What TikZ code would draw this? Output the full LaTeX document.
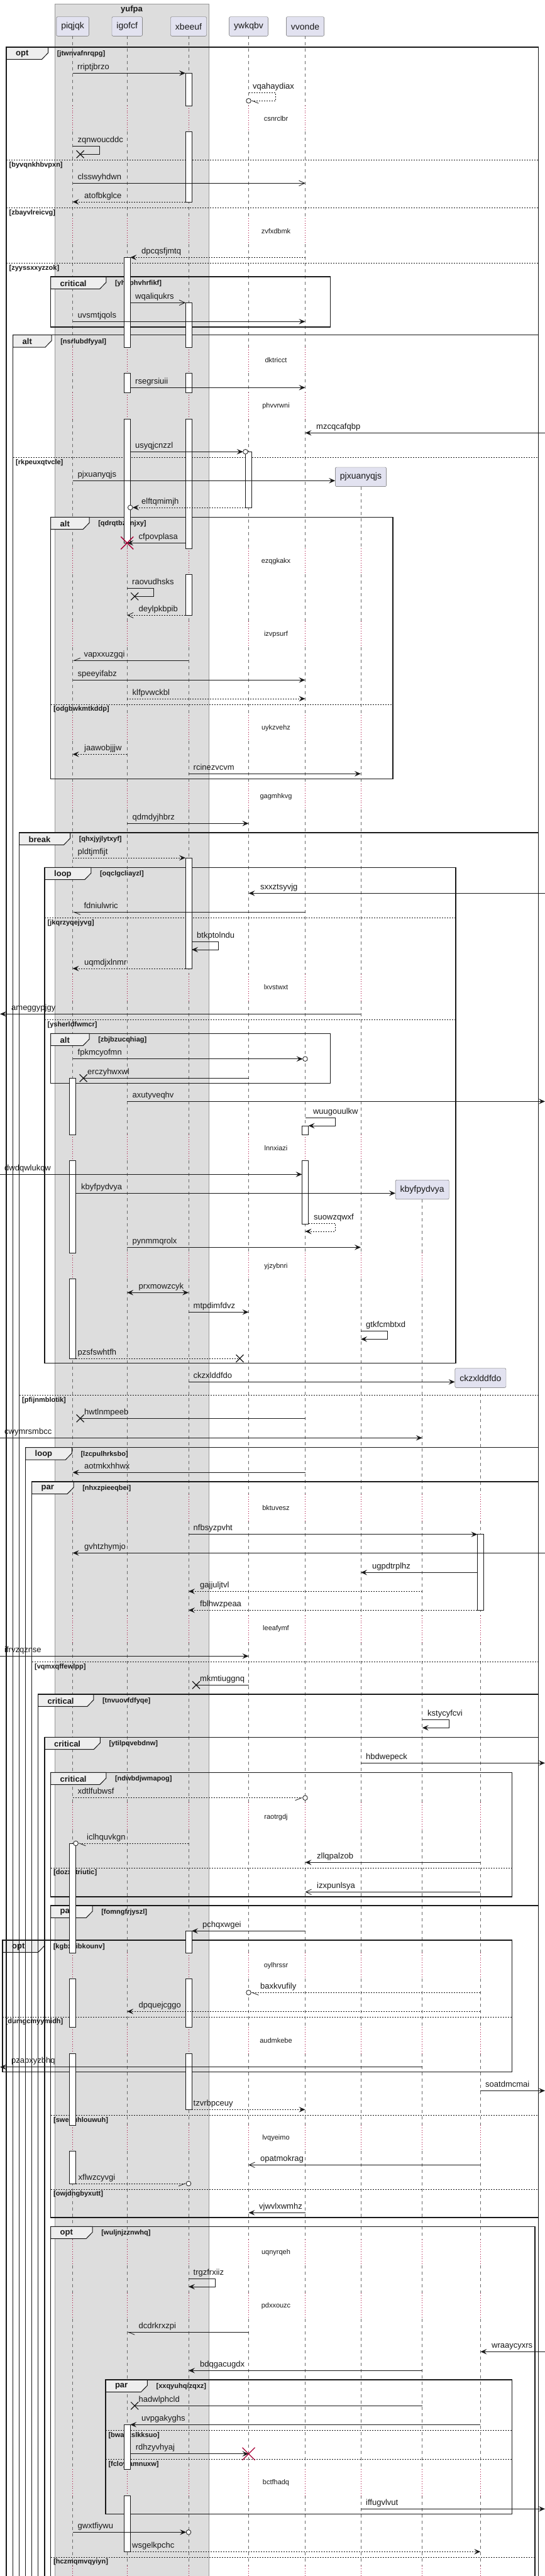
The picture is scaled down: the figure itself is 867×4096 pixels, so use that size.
\documentclass[tikz,border=0pt]{standalone}
\usepackage{fontspec}
\setmainfont{Liberation Sans}
\usetikzlibrary{arrows.meta,calc,positioning}
\definecolor{ink}{HTML}{181818}
\definecolor{partbg}{HTML}{E2E2F0}
\definecolor{grpbg}{HTML}{DDDDDD}
\definecolor{tabbg}{HTML}{EEEEEE}
\definecolor{dlyred}{HTML}{A80036}
\pgfdeclarelayer{back}
\pgfdeclarelayer{tabs}
\pgfsetlayers{back,tabs,main}

\def\solidparts{57.3/168, 209/347, 388/552, 593/624, 666/872, 913/988, 1029/1137, 1178/1246, 1287/1549, 1591/1804, 1845/1992, 2033/2376, 2418/2569, 2611/2866, 2910/3105, 3146/3223, 3265/3379, 3420/3561, 3602/3646, 3687/3926, 3968/4080}
\def\delayparts{168/209, 347/388, 552/593, 624/666, 872/913, 988/1029, 1137/1178, 1246/1287, 1549/1591, 1804/1845, 1992/2033, 2376/2418, 2569/2611, 2866/2910, 3105/3146, 3223/3265, 3379/3420, 3561/3602, 3646/3687, 3926/3968, 4080/4100}

\newcommand\lifeline[2]{%
  \begin{pgfonlayer}{back}
  \foreach \a/\b in \solidparts {%
    \pgfmathtruncatemacro\lok{\b>#2}%
    \ifnum\lok=1
      \pgfmathsetmacro\ya{max(\a,#2)}%
      \draw[lifeln] (#1 |- 0,\ya) -- (#1 |- 0,\b);
    \fi}
  \foreach \a/\b in \delayparts {%
    \pgfmathtruncatemacro\lok{\b>#2}%
    \ifnum\lok=1
      \pgfmathsetmacro\ya{max(\a,#2)}%
      \draw[delayln] (#1 |- 0,\ya) -- (#1 |- 0,\b);
    \fi}
  \end{pgfonlayer}}
\newcommand\act[3]{\draw[actv] (#1L |- 0,#2) rectangle (#1R |- 0,#3);}
\newcommand\mesg[6]{%
  \draw[#1] (#2 |- 0,#4) -- (#3 |- 0,#4);
  \node[mlbl] (m-#6) at (#5,#4-6) {#6};}
\newcommand\frm[6]{%
  \draw[frameln] (#1,#2) rectangle (#3,#4);
  \node[kwd] (k-#6) at (#1+15,#2+10.5) {#5};
  \path (k-#6.east) ++(31,0) coordinate (t-#6);
  \begin{pgfonlayer}{tabs}
  \filldraw[tabst] (#1,#2) -- (t-#6 |- 0,#2) -- ++(0,9) -- ++(-10,10.3) -- (#1,#2+19.3) -- cycle;
  \end{pgfonlayer}
  \node[grd, right=14pt of t-#6] (g-#6) {[#6]};}
\newcommand\sepr[4]{%
  \draw[sepln] (#1,#3) -- (#2,#3);
  \node[grd] (g-#4) at (#1+4.5,#3+8) {[#4]};}
\newcommand\xend[1]{\draw[xmk] ([shift={(-6pt,-6pt)}]#1) -- ([shift={(6pt,6pt)}]#1) ([shift={(-6pt,6pt)}]#1) -- ([shift={(6pt,-6pt)}]#1);}
\newcommand\destroyx[1]{\draw[killmk] ([shift={(-10pt,-10pt)}]#1) -- ([shift={(10pt,10pt)}]#1) ([shift={(-10pt,10pt)}]#1) -- ([shift={(10pt,-10pt)}]#1);}
\newcommand\circend[2]{\draw[ink, fill=white, line width=0.8pt] (#1 |- 0,#2) circle (3.8pt);}
\newcommand\dlytext[2]{\node[dly] (d-#2) at (439,#1) {#2};}

\begin{document}
\begin{tikzpicture}[x=1pt,y=-1pt]
\tikzstyle{part} = [draw=ink!70, fill=partbg, rounded corners=2pt, minimum height=30.6pt, inner xsep=7.5pt, text=ink, font=\fontsize{14}{14}\selectfont]
\tikzstyle{grpt} = [inner sep=0pt, text=ink, font=\bfseries\fontsize{13}{13}\selectfont]
\tikzstyle{lifeln} = [draw=ink!65, line width=0.6pt, dash pattern=on 5pt off 5pt]
\tikzstyle{delayln} = [draw=dlyred, line width=0.7pt, dash pattern=on 0.8pt off 3pt]
\tikzstyle{actv} = [draw=ink, fill=white, line width=0.8pt]
\tikzstyle{bare} = [draw=ink, line width=0.8pt]
\tikzstyle{dsh} = [dash pattern=on 2pt off 2pt]
\tikzstyle{sync} = [bare, -{Stealth[length=10pt,width=8.5pt,inset=4pt]}]
\tikzstyle{ret} = [sync, dsh]
\tikzstyle{twoway} = [bare, {Stealth[length=10pt,width=8.5pt,inset=4pt]}-{Stealth[length=10pt,width=8.5pt,inset=4pt]}]
\tikzstyle{opena} = [bare, -{Straight Barb[length=9pt,width=8.5pt]}]
\tikzstyle{openret} = [opena, dsh]
\tikzstyle{halfl} = [bare, -{Straight Barb[left,length=10pt,width=8pt]}]
\tikzstyle{halfr} = [bare, -{Straight Barb[right,length=10pt,width=8pt]}]
\tikzstyle{mlbl} = [anchor=base west, inner sep=0pt, text=ink, font=\fontsize{13}{13}\selectfont]
\tikzstyle{dly} = [inner sep=0pt, text=ink, font=\fontsize{11}{11}\selectfont]
\tikzstyle{frameln} = [draw=ink, line width=1.4pt]
\tikzstyle{sepln} = [draw=ink, line width=0.8pt, dash pattern=on 2pt off 2pt]
\tikzstyle{tabst} = [draw=ink, fill=tabbg, line width=1pt]
\tikzstyle{kwd} = [anchor=west, inner sep=0pt, text=ink, font=\bfseries\fontsize{13}{13}\selectfont]
\tikzstyle{grd} = [anchor=west, inner sep=0pt, text=ink, font=\bfseries\fontsize{11}{11}\selectfont]
\tikzstyle{xmk} = [draw=ink, line width=1.2pt]
\tikzstyle{killmk} = [draw=dlyred, line width=1.4pt]

\useasboundingbox (0,0) rectangle (867,4096);

\begin{pgfonlayer}{back}
\filldraw[fill=grpbg, draw=ink!45, line width=0.6pt] (87,6) rectangle (332,4110);
\end{pgfonlayer}
\node[grpt] (yufpa) at (209.5,15) {yufpa};

\node[part] (piqjqk) at (115.6,42) {piqjqk};
\node[part] (igofcf) at (202.2,42) {igofcf};
\node[part] (xbeeuf) at (300,42) {xbeeuf};
\node[part] (ywkqbv) at (395.5,42) {ywkqbv};
\node[part] (vvonde) at (485.5,42) {vvonde};
\node[part] (pjxuanyqjs) at (574,758.3) {pjxuanyqjs};
\node[part] (kbyfpydvya) at (671.7,1891.5) {kbyfpydvya};
\node[part] (ckzxlddfdo) at (764.4,2191) {ckzxlddfdo};

\foreach \p in {piqjqk,igofcf,xbeeuf,ywkqbv,vvonde,ckzxlddfdo} {
  \path (\p) ++(-5,0) coordinate (\p L);
  \path (\p) ++(5,0) coordinate (\p R);
}
\coordinate (lft) at (0,0);
\coordinate (rgt) at (867,0);

\lifeline{piqjqk}{57.3}
\lifeline{igofcf}{57.3}
\lifeline{xbeeuf}{57.3}
\lifeline{ywkqbv}{57.3}
\lifeline{vvonde}{57.3}
\lifeline{pjxuanyqjs}{774.3}
\lifeline{kbyfpydvya}{1907.3}
\lifeline{ckzxlddfdo}{2206.3}

\frm{4}{3085}{814.4}{3294.3}{opt}{kgbxdibkounv}
\sepr{4}{814.4}{3207}{dumgcmyymidh}
\frm{10}{75}{856.5}{4100}{opt}{jtwnvafnrqpg}
\sepr{10}{856.5}{254.3}{byvqnkhbvpxn}
\sepr{10}{856.5}{330.3}{zbayvlreicvg}
\sepr{10}{856.5}{418.3}{zyyssxxyzzok}
\frm{80.5}{440}{525.5}{520}{critical}{yhophvhrfikf}
\frm{20.5}{532.7}{856.5}{4100}{alt}{nsrlubdfyyal}
\sepr{20.5}{856.5}{727.3}{rkpeuxqtvcle}
\frm{80.5}{822.3}{625}{1238.3}{alt}{qdrqtbzunjxy}
\sepr{80.5}{625}{1120}{odgbwkmtkddp}
\frm{30.5}{1324}{856.5}{4100}{break}{qhxjyjlytxyf}
\frm{71}{1379.3}{725}{2167.7}{loop}{oqclgcliayzl}
\sepr{71}{725}{1459.3}{jkqrzyqejyvg}
\sepr{71}{725}{1621.3}{ysherldfwmcr}
\frm{80.5}{1643.3}{525.5}{1722.3}{alt}{zbjbzucqhiag}
\sepr{30.5}{856.5}{2218.3}{pfijnmblotik}
\frm{40.5}{2301.7}{856.5}{4100}{loop}{lzcpulhrksbo}
\frm{50.5}{2356}{856.5}{4100}{par}{nhxzpieeqbei}
\sepr{50.5}{856.5}{2642.3}{vqmxqffewlpp}
\frm{60.5}{2694}{856.5}{4100}{critical}{tnvuovfdfyqe}
\frm{71}{2762.3}{856.5}{4100}{critical}{ytilpqvebdnw}
\frm{80.5}{2818.3}{814.4}{3016}{critical}{ndwbdjwmapog}
\sepr{80.5}{814.4}{2970}{dozxctriutic}
\frm{80.5}{3030}{856.5}{3526}{par}{fomngfrjyszl}
\sepr{80.5}{856.5}{3363.3}{sweguhlouwuh}
\sepr{80.5}{856.5}{3481}{owjdngbyxutt}
\frm{80.5}{3540.3}{851}{4100}{opt}{wuljnjzznwhq}
\frm{167.8}{3784}{814.4}{3997.3}{par}{xxqyuhqizqxz}
\sepr{167.8}{814.4}{3864.3}{bwaezslkksuo}
\sepr{167.8}{814.4}{3910.3}{fcloyjamnuxw}
\sepr{80.5}{851}{4066}{hczmqmvqyiyn}

\act{xbeeuf}{116.3}{168} \act{xbeeuf}{209}{321}
\act{igofcf}{409.3}{552} \act{igofcf}{593}{624} \act{igofcf}{666}{863.3}
\act{xbeeuf}{481.3}{552} \act{xbeeuf}{593}{624} \act{xbeeuf}{666}{872} \act{xbeeuf}{913}{978.3}
\act{ywkqbv}{718.3}{807}
\act{xbeeuf}{1364}{1540}
\act{piqjqk}{1714.3}{1804} \act{piqjqk}{1845}{1992} \act{piqjqk}{2033}{2160}
\act{vvonde}{1790}{1804} \act{vvonde}{1845}{1946}
\act{ckzxlddfdo}{2439.7}{2560.3}
\act{piqjqk}{2931}{3105} \act{piqjqk}{3146}{3223} \act{piqjqk}{3265}{3379} \act{piqjqk}{3420}{3472}
\act{xbeeuf}{3070.3}{3105} \act{xbeeuf}{3146}{3223} \act{xbeeuf}{3265}{3354.3}
\act{igofcf}{3855.3}{3926} \act{igofcf}{3968}{4057.3}

\coordinate (x-zqnwoucddc) at ($(piqjqk |- 0,245.3)+(12,0)$);
\coordinate (x-raovudhsks) at ($(igofcf |- 0,948.3)+(12,0)$);
\coordinate (x-erczyhwxwl) at ($(piqjqkR |- 0,1714.3)+(12,0)$);
\coordinate (x-pzsfswhtfh) at ($(ywkqbv |- 0,2160)+(-14,0)$);
\coordinate (x-hwtlnmpeeb) at ($(piqjqk |- 0,2255.3)+(12,0)$);
\coordinate (x-mkmtiuggnq) at ($(xbeeuf |- 0,2679.3)+(12,0)$);
\coordinate (x-hadwlphcld) at ($(igofcf |- 0,3825.3)+(12,0)$);
\coordinate (z-cfpovplasa) at (igofcf |- 0,863.3);
\coordinate (z-rdhzyvhyaj) at (ywkqbv |- 0,3901.7);

\mesg{sync}{piqjqk}{xbeeufL}{116.3}{123}{rriptjbrzo}
\draw[ret, -{Straight Barb[left,length=10pt,width=8pt]}, shorten >=3.8pt] (ywkqbv |- 0,147.3) -- (438,147.3) -- (438,160.3) -- (ywkqbv |- 0,160.3);
\circend{ywkqbv}{160.3}
\node[mlbl] (m-vqahaydiax) at (402,141.3) {vqahaydiax};
\dlytext{188.5}{csnrclbr}
\draw[bare] (piqjqk |- 0,232.3) -- (158,232.3) -- (158,245.3) -- (x-zqnwoucddc);
\xend{x-zqnwoucddc}
\node[mlbl] (m-zqnwoucddc) at (123.5,226.3) {zqnwoucddc};
\mesg{opena}{piqjqk}{vvonde}{291.3}{123.5}{clsswyhdwn}
\mesg{ret}{xbeeufL}{piqjqk}{321}{134}{atofbkglce}
\dlytext{367.3}{zvfxdbmk}
\mesg{ret}{vvonde}{igofcfR}{409.3}{225}{dpcqsfjmtq}
\mesg{opena}{igofcfR}{xbeeufL}{481.3}{215}{wqaliqukrs}
\mesg{sync}{piqjqk}{vvonde}{511.3}{123.5}{uvsmtjqols}
\dlytext{573}{dktricct}
\mesg{sync}{igofcfR}{vvonde}{616.3}{215}{rsegrsiuii}
\dlytext{645.5}{phvvrwni}
\mesg{sync}{rgt}{vvonde}{688.3}{503}{mzcqcafqbp}
\mesg{sync, shorten >=3.8pt}{igofcfR}{ywkqbvL}{718.3}{215}{usyqjcnzzl}
\circend{ywkqbvL}{718.3}
\mesg{sync}{piqjqk}{pjxuanyqjs.west}{764.3}{123.5}{pjxuanyqjs}
\mesg{ret, shorten >=3.8pt}{ywkqbvL}{igofcfR}{807}{225}{elftqmimjh}
\circend{igofcfR}{807}
\mesg{sync}{xbeeufL}{igofcf}{863.3}{220.5}{cfpovplasa}
\destroyx{z-cfpovplasa}
\dlytext{892.5}{ezqgkakx}
\draw[bare] (igofcf |- 0,935.7) -- (244.4,935.7) -- (244.4,948.3) -- (x-raovudhsks);
\xend{x-raovudhsks}
\node[mlbl] (m-raovudhsks) at (210,929.7) {raovudhsks};
\mesg{openret}{xbeeufL}{igofcf}{978.3}{220.5}{deylpkbpib}
\dlytext{1008.3}{izvpsurf}
\mesg{halfr}{xbeeuf}{piqjqk}{1050.3}{133.3}{vapxxuzgqi}
\mesg{sync}{piqjqk}{vvonde}{1081.3}{123.5}{speeyifabz}
\mesg{ret}{igofcf}{vvonde}{1111}{210.5}{klfpvwckbl}
\dlytext{1157.3}{uykzvehz}
\mesg{ret}{igofcf}{piqjqk}{1199.3}{134}{jaawobjjjw}
\mesg{sync}{xbeeuf}{pjxuanyqjs}{1230.3}{307.5}{rcinezvcvm}
\dlytext{1266.7}{gagmhkvg}
\mesg{sync}{igofcf}{ywkqbv}{1309.3}{210.5}{qdmdyjhbrz}
\mesg{ret}{piqjqk}{xbeeufL}{1364}{123.5}{pldtjmfijt}
\mesg{sync}{rgt}{ywkqbv}{1420.3}{414}{sxxztsyvjg}
\mesg{halfl}{vvonde}{piqjqk}{1450.3}{133.3}{fdniulwric}
\draw[sync] (xbeeufR |- 0,1497.3) -- (347,1497.3) -- (347,1510) -- (xbeeufR |- 0,1510);
\node[mlbl] (m-btkptolndu) at (313,1491.3) {btkptolndu};
\mesg{ret}{xbeeufL}{piqjqk}{1540}{134}{uqmdjxlnmr}
\dlytext{1570}{lxvstwxt}
\mesg{sync}{pjxuanyqjs}{lft}{1612.3}{18}{ameggypjgy}
\mesg{sync, shorten >=3.8pt}{piqjqk}{vvonde}{1683.7}{123.5}{fpkmcyofmn}
\circend{vvonde}{1683.7}
\mesg{bare}{ywkqbv}{x-erczyhwxwl}{1714.3}{139}{erczyhwxwl}
\xend{x-erczyhwxwl}
\mesg{sync}{igofcf}{rgt}{1751.3}{210.5}{axutyveqhv}
\draw[sync] (vvonde |- 0,1777.3) -- (533,1777.3) -- (533,1790) -- (vvondeR |- 0,1790);
\node[mlbl] (m-wuugouulkw) at (497.8,1771.3) {wuugouulkw};
\dlytext{1825.3}{lnnxiazi}
\mesg{sync}{lft}{vvondeL}{1867.3}{7}{dwdqwlukqw}
\mesg{sync}{piqjqkR}{kbyfpydvya.west}{1897.3}{129}{kbyfpydvya}
\draw[ret] (vvondeR |- 0,1945.3) -- (533,1945.3) -- (533,1958) -- (vvonde |- 0,1958);
\node[mlbl] (m-suowzqwxf) at (499,1939.3) {suowzqwxf};
\mesg{sync}{igofcf}{pjxuanyqjs}{1983.3}{210.5}{pynmmqrolx}
\dlytext{2013.3}{yjzybnri}
\mesg{twoway}{igofcf}{xbeeuf}{2055.3}{220.5}{prxmowzcyk}
\mesg{sync}{xbeeuf}{ywkqbv}{2086.3}{307.5}{mtpdimfdvz}
\draw[sync] (pjxuanyqjs |- 0,2116.3) -- (616,2116.3) -- (616,2129.3) -- (pjxuanyqjs |- 0,2129.3);
\node[mlbl] (m-gtkfcmbtxd) at (582,2110.3) {gtkfcmbtxd};
\mesg{bare, dsh}{piqjqkR}{x-pzsfswhtfh}{2160}{123.5}{pzsfswhtfh}
\xend{x-pzsfswhtfh}
\mesg{sync}{xbeeuf}{ckzxlddfdo.west}{2197.3}{307.5}{ckzxlddfdo}
\mesg{bare}{vvonde}{x-hwtlnmpeeb}{2255.3}{134}{hwtlnmpeeb}
\xend{x-hwtlnmpeeb}
\mesg{sync}{lft}{kbyfpydvya}{2286.3}{7}{cwymrsmbcc}
\mesg{sync}{vvonde}{piqjqk}{2341.3}{134}{aotmkxhhwx}
\dlytext{2397.3}{bktuvesz}
\mesg{sync}{xbeeuf}{ckzxlddfdoL}{2439.7}{307.5}{nfbsyzpvht}
\mesg{sync}{rgt}{piqjqk}{2469.3}{134}{gvhtzhymjo}
\mesg{sync}{ckzxlddfdoL}{pjxuanyqjs}{2500.3}{592}{ugpdtrplhz}
\mesg{ret}{kbyfpydvya}{xbeeuf}{2530.3}{318}{gajjuljtvl}
\mesg{ret}{ckzxlddfdoL}{xbeeuf}{2560.3}{318}{fblhwzpeaa}
\dlytext{2590}{leeafymf}
\mesg{sync}{lft}{ywkqbv}{2633.3}{7}{ifrvzqznse}
\mesg{bare}{ywkqbv}{x-mkmtiuggnq}{2679.3}{318}{mkmtiuggnq}
\xend{x-mkmtiuggnq}
\draw[sync] (kbyfpydvya |- 0,2734.3) -- (714,2734.3) -- (714,2747.3) -- (kbyfpydvya |- 0,2747.3);
\node[mlbl] (m-kstycyfcvi) at (680,2728.3) {kstycyfcvi};
\mesg{sync}{pjxuanyqjs}{rgt}{2803.3}{582}{hbdwepeck}
\mesg{halfr, dsh, shorten >=3.8pt}{piqjqk}{vvonde}{2858.7}{123.5}{xdtlfubwsf}
\circend{vvonde}{2858.7}
\dlytext{2889.3}{raotrgdj}
\mesg{halfl, dsh, shorten >=3.8pt}{xbeeuf}{piqjqkR}{2931}{138}{iclhquvkgn}
\circend{piqjqkR}{2931}
\mesg{sync}{ckzxlddfdo}{vvonde}{2961.3}{504}{zllqpalzob}
\mesg{opena}{ckzxlddfdo}{vvonde}{3008.3}{504}{izxpunlsya}
\mesg{sync}{vvonde}{xbeeufR}{3070.3}{322}{pchqxwgei}
\dlytext{3126}{oylhrssr}
\mesg{halfl, dsh, shorten >=3.8pt}{ckzxlddfdo}{ywkqbv}{3168.3}{414}{baxkvufily}
\circend{ywkqbv}{3168.3}
\mesg{ret}{ckzxlddfdo}{igofcf}{3198.3}{220.5}{dpquejcggo}
\dlytext{3244.3}{audmkebe}
\mesg{sync}{kbyfpydvya}{lft}{3286.7}{18}{pzapxyzbhq}
\mesg{sync}{ckzxlddfdo}{rgt}{3324.3}{772}{soatdmcmai}
\mesg{ret}{xbeeufR}{vvonde}{3354.3}{307.5}{tzvrbpceuy}
\dlytext{3400}{lvqyeimo}
\mesg{opena}{ckzxlddfdo}{ywkqbv}{3442.3}{414}{opatmokrag}
\mesg{halfr, dsh, shorten >=3.8pt}{piqjqkR}{xbeeuf}{3472}{124.5}{xflwzcyvgi}
\circend{xbeeuf}{3472}
\mesg{sync}{vvonde}{ywkqbv}{3518.3}{412}{vjwvlxwmhz}
\dlytext{3581.7}{uqnyrqeh}
\draw[sync] (xbeeuf |- 0,3623.3) -- (342,3623.3) -- (342,3636) -- (xbeeuf |- 0,3636);
\node[mlbl] (m-trgzfrxiiz) at (307.5,3617.3) {trgzfrxiiz};
\dlytext{3666.7}{pdxxouzc}
\mesg{halfl}{ywkqbv}{igofcf}{3708.3}{220.5}{dcdrkrxzpi}
\mesg{sync}{rgt}{ckzxlddfdo}{3739.3}{782}{wraaycyxrs}
\mesg{sync}{kbyfpydvya}{xbeeuf}{3769.3}{318}{bdqgacugdx}
\mesg{bare}{kbyfpydvya}{x-hadwlphcld}{3825.3}{220.5}{hadwlphcld}
\xend{x-hadwlphcld}
\mesg{sync}{ckzxlddfdo}{igofcfR}{3855.3}{225}{uvpgakyghs}
\mesg{sync}{igofcfR}{ywkqbv}{3901.7}{215.6}{rdhzyvhyaj}
\destroyx{z-rdhzyvhyaj}
\dlytext{3947.3}{bctfhadq}
\mesg{sync}{pjxuanyqjs}{rgt}{3989.3}{582}{iffugvlvut}
\mesg{sync, shorten >=3.8pt}{piqjqk}{xbeeuf}{4026.3}{123.5}{gwxtfiywu}
\circend{xbeeuf}{4026.3}
\mesg{ret}{igofcfR}{ckzxlddfdo}{4057.3}{210}{wsgelkpchc}

\end{tikzpicture}
\end{document}
